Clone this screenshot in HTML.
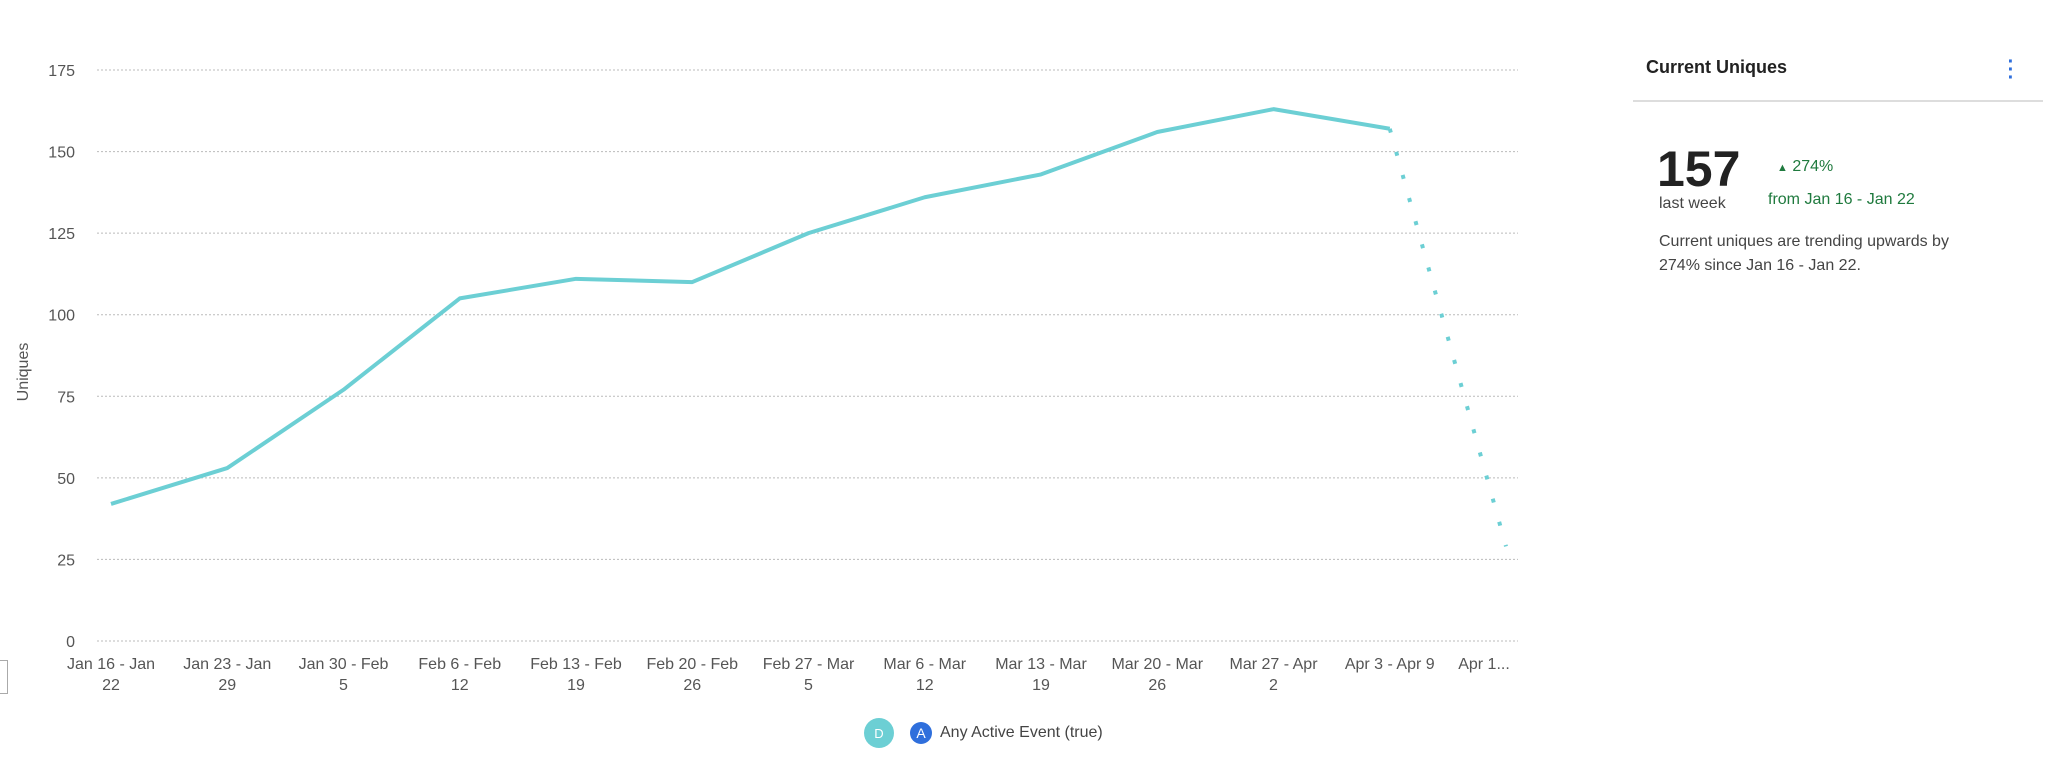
<!DOCTYPE html>
<html><head><meta charset="utf-8"><style>
body{margin:0;width:2048px;height:771px;background:#fff;overflow:hidden;font-family:"Liberation Sans",sans-serif;position:relative}
.abs{position:absolute}
</style></head><body>
<svg class="abs" style="left:0;top:0" width="1560" height="771">
<g id="grid"></g><g id="ylab"></g><g id="xlab"></g><g id="lines"></g>
<text transform="translate(28,372) rotate(-90)" text-anchor="middle" font-size="16" fill="#555">Uniques</text>
</svg>
<div class="abs" style="left:-2px;top:660px;width:8px;height:32px;border:1px solid #aaa"></div>
<div class="abs" style="left:864px;top:718px;height:30px;display:flex;align-items:center">
 <div style="width:30px;height:30px;border-radius:50%;background:#6ccfd4;color:#fff;font-size:13px;display:flex;align-items:center;justify-content:center">D</div>
 <div style="margin-left:16px;width:22px;height:22px;border-radius:50%;background:#2f6fdc;color:#fff;font-size:14px;display:flex;align-items:center;justify-content:center">A</div>
 <span style="margin-left:8px;font-size:16px;color:#444">Any Active Event (true)</span>
</div>
<div class="abs" style="left:1646px;top:57px;font-size:18px;font-weight:bold;color:#222">Current Uniques</div>
<div class="abs" style="left:2006px;top:58px;width:10px;color:#2f6fdc;font-size:20px;line-height:8px;text-align:center;font-weight:bold">·<br>·<br>·</div>
<div class="abs" style="left:1633px;top:100px;width:410px;height:2px;background:#ddd"></div>
<div class="abs" style="left:1657px;top:142px;font-size:50px;font-weight:bold;color:#222;line-height:54px">157</div>
<div class="abs" style="left:1659px;top:195px;font-size:16px;color:#444">last week</div>
<div class="abs" style="left:1777px;top:158px;font-size:16px;color:#1f7a3e"><span style="font-size:11px">▲</span> 274%</div>
<div class="abs" style="left:1768px;top:191px;font-size:16px;color:#1f7a3e">from Jan 16 - Jan 22</div>
<div class="abs" style="left:1659px;top:230px;width:315px;font-size:16px;line-height:24px;color:#444">Current uniques are trending upwards by 274% since Jan 16 - Jan 22.</div>
<script>
const categories1=["Jan 16 - Jan","Jan 23 - Jan","Jan 30 - Feb","Feb 6 - Feb","Feb 13 - Feb","Feb 20 - Feb","Feb 27 - Mar","Mar 6 - Mar","Mar 13 - Mar","Mar 20 - Mar","Mar 27 - Apr","Apr 3 - Apr 9","Apr 1..."];
const categories2=["22","29","5","12","19","26","5","12","19","26","2","",""];
const values=[42,53,77,105,111,110,125,136,143,156,163,157,29];
const yTicks=[0,25,50,75,100,125,150,175];
const NS="http://www.w3.org/2000/svg";
const x=i=>111+i*116.25, y=v=>641-v*(571/175);
function mk(t,a,p){const e=document.createElementNS(NS,t);for(const k in a)e.setAttribute(k,a[k]);p.appendChild(e);return e;}
const G=document.getElementById('grid'),YL=document.getElementById('ylab'),XL=document.getElementById('xlab'),L=document.getElementById('lines');
yTicks.forEach(t=>{
 const l=mk('line',{x1:97,x2:1518,y1:y(t),y2:y(t),stroke:'#bbb','stroke-width':1,'stroke-dasharray':'2 2'},G);
 
 
 const tx=mk('text',{x:75,y:y(t)+6,'text-anchor':'end','font-size':16,fill:'#555'},YL);tx.textContent=t;
 
 
});
categories1.forEach((c,i)=>{
 const cx=i===categories1.length-1?x(i)-22:x(i);
 const t=mk('text',{x:cx,y:669,'text-anchor':'middle','font-size':16,fill:'#555'},XL);t.textContent=c;
 
 
 const t2=mk('text',{x:cx,y:690,'text-anchor':'middle','font-size':16,fill:'#555'},XL);t2.textContent=categories2[i];
 
 
});
const n=values.length;
const solid=values.slice(0,n-1).map((v,i)=>x(i)+','+y(v)).join(' ');
const p=mk('polyline',{points:solid,fill:'none',stroke:'#6ccfd4','stroke-width':4,'stroke-linejoin':'round'},L);


const d=mk('line',{x1:x(n-2),y1:y(values[n-2]),x2:x(n-1),y2:y(values[n-1]),stroke:'#6ccfd4','stroke-width':4,'stroke-dasharray':'4 20'},L);


</script>
</body></html>
